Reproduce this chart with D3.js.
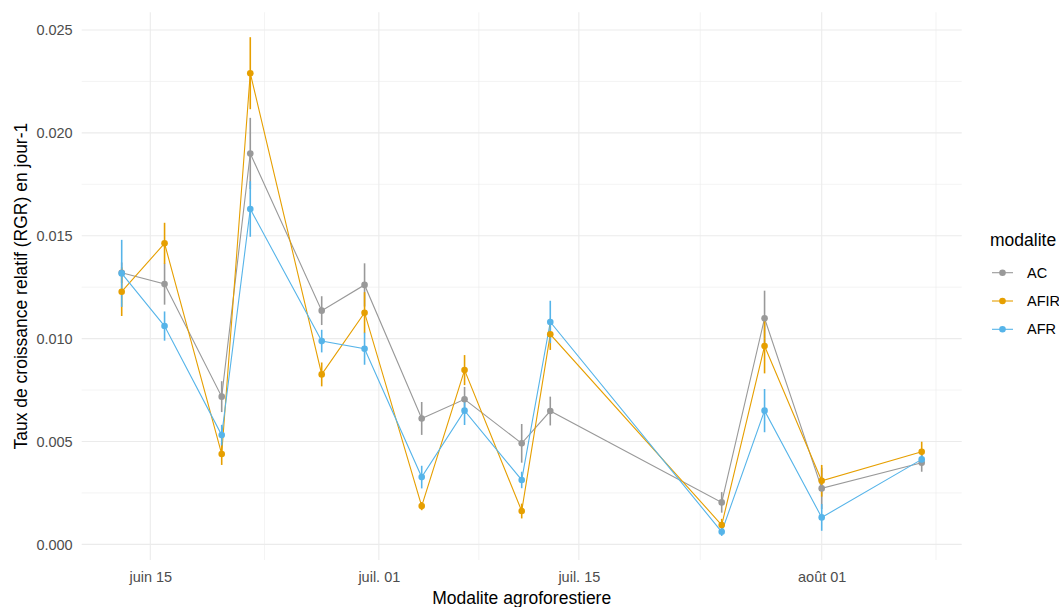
<!DOCTYPE html>
<html><head><meta charset="utf-8">
<script src="https://cdn.jsdelivr.net/npm/d3@7"></script>
<style>
body{margin:0;background:#fff;}
text{font-family:"Liberation Sans",Arial,sans-serif;}
</style>
</head><body>
<svg id="chart" width="1059" height="607"></svg>
<script>
// ---- data ----
const dates = ["2021-06-13","2021-06-16","2021-06-20","2021-06-22","2021-06-27","2021-06-30","2021-07-04","2021-07-07","2021-07-11","2021-07-13","2021-07-25","2021-07-28","2021-08-01","2021-08-08"];
const seriesNames = ["AC","AFIR","AFR"];
const seriesColors = ["#999999","#E69F00","#56B4E9"];
const acMean   = [0.01320,0.01265,0.00718,0.01900,0.01136,0.01261,0.00612,0.00705,0.00491,0.00648,0.00204,0.01099,0.00272,0.00397];
const acSe     = [0.00050,0.00100,0.00075,0.00173,0.00070,0.00105,0.00080,0.00060,0.00094,0.00070,0.00050,0.00134,0.00100,0.00044];
const afirMean = [0.01228,0.01463,0.00439,0.02290,0.00826,0.01126,0.00186,0.00847,0.00162,0.01021,0.00094,0.00964,0.00309,0.00450];
const afirSe   = [0.00118,0.00100,0.00053,0.00175,0.00058,0.00100,0.00020,0.00073,0.00036,0.00076,0.00030,0.00133,0.00077,0.00049];
const afrMean  = [0.01317,0.01061,0.00531,0.01630,0.00988,0.00951,0.00327,0.00650,0.00313,0.01081,0.00061,0.00650,0.00131,0.00413];
const afrSe    = [0.00163,0.00071,0.00050,0.00135,0.00055,0.00078,0.00055,0.00070,0.00040,0.00103,0.00020,0.00105,0.00065,0.00020];
const yTicks = [0,0.005,0.010,0.015,0.020,0.025];
const yMinor = [0.0025,0.0075,0.0125,0.0175,0.0225];
const xTickDates = ["2021-06-15","2021-07-01","2021-07-15","2021-08-01"];
const xTickLabels = ["juin 15","juil. 01","juil. 15","août 01"];
const xMinorDates = ["2021-06-23","2021-07-08","2021-07-23T12:00","2021-08-09"];
const xTitle = "Modalite agroforestiere";
const yTitle = "Taux de croissance relatif (RGR) en jour-1";
const legendTitle = "modalite";

// ---- setup ----
const parse = s => new Date(s + (s.length===10 ? "T00:00" : ""));
const means = [acMean, afirMean, afrMean];
const ses = [acSe, afirSe, afrSe];
const series = seriesNames.map((name,i) => ({
  name, color: seriesColors[i],
  values: dates.map((d,j) => ({date: parse(d), mean: means[i][j], se: ses[i][j]}))
}));

const L = 81.7, R = 961.7, T = 12.3, B = 560;
const d0 = parse(dates[0]), d1 = parse(dates[dates.length-1]);
const pad = (d1 - d0) * 0.05;
const x = d3.scaleTime().domain([new Date(+d0 - pad), new Date(+d1 + pad)]).range([L, R]);
const y = d3.scaleLinear().domain([-0.00076, 0.02586]).range([B, T]);

const svg = d3.select("#chart");
svg.append("rect").attr("width",1059).attr("height",607).attr("fill","#fff");

// grid
const grid = svg.append("g");
grid.selectAll(".ym").data(yMinor).join("line")
  .attr("x1",L).attr("x2",R).attr("y1",d=>y(d)).attr("y2",d=>y(d))
  .attr("stroke","#ebebeb").attr("stroke-width",0.6);
grid.selectAll(".xm").data(xMinorDates).join("line")
  .attr("y1",T).attr("y2",B).attr("x1",d=>x(parse(d))).attr("x2",d=>x(parse(d)))
  .attr("stroke","#ebebeb").attr("stroke-width",0.6);
grid.selectAll(".yM").data(yTicks).join("line")
  .attr("x1",L).attr("x2",R).attr("y1",d=>y(d)).attr("y2",d=>y(d))
  .attr("stroke","#ebebeb").attr("stroke-width",1.1);
grid.selectAll(".xM").data(xTickDates).join("line")
  .attr("y1",T).attr("y2",B).attr("x1",d=>x(parse(d))).attr("x2",d=>x(parse(d)))
  .attr("stroke","#ebebeb").attr("stroke-width",1.1);

// axes
const yAxis = svg.append("g").attr("transform",`translate(${L},0)`)
  .call(d3.axisLeft(y).tickValues(yTicks).tickFormat(d3.format(".3f")).tickSize(0).tickPadding(9));
yAxis.select(".domain").remove();
yAxis.selectAll("text").attr("fill","#4d4d4d").style("font-size","14.5px");

const xTickParsed = xTickDates.map(parse);
const xAxis = svg.append("g").attr("transform",`translate(0,${B})`)
  .call(d3.axisBottom(x).tickValues(xTickParsed).tickFormat((d,i)=>xTickLabels[i]).tickSize(0).tickPadding(12));
xAxis.select(".domain").remove();
xAxis.selectAll("text").attr("fill","#4d4d4d").style("font-size","14.5px");

svg.append("text").attr("x",(L+R)/2).attr("y",604).attr("text-anchor","middle")
  .style("font-size","17.5px").attr("fill","#000").text(xTitle);
svg.append("text").attr("transform",`translate(27,${(T+B)/2}) rotate(-90)`).attr("text-anchor","middle")
  .style("font-size","17.5px").attr("fill","#000").text(yTitle);

// lines
const line = d3.line().x(d=>x(d.date)).y(d=>y(d.mean));
svg.append("g").selectAll("path").data(series).join("path")
  .attr("d",s=>line(s.values)).attr("fill","none").attr("stroke",s=>s.color).attr("stroke-width",1.1);

// error bars
series.forEach(s=>{
  svg.append("g").selectAll("line").data(s.values).join("line")
    .attr("x1",d=>x(d.date)).attr("x2",d=>x(d.date))
    .attr("y1",d=>y(d.mean-d.se)).attr("y2",d=>y(d.mean+d.se))
    .attr("stroke",s.color).attr("stroke-width",1.6);
});
// points
series.forEach(s=>{
  svg.append("g").selectAll("circle").data(s.values).join("circle")
    .attr("cx",d=>x(d.date)).attr("cy",d=>y(d.mean)).attr("r",3.3).attr("fill",s.color);
});

// legend
const lg = svg.append("g");
lg.append("text").attr("x",990).attr("y",246).style("font-size","17.5px").attr("fill","#000").text(legendTitle);
const keyY = [272.7, 301, 329.3];
series.forEach((s,i)=>{
  const g = lg.append("g").attr("transform",`translate(0,${keyY[i]})`);
  g.append("line").attr("x1",992).attr("x2",1013).attr("stroke",s.color).attr("stroke-width",1.1);
  g.append("circle").attr("cx",1002.5).attr("r",3.3).attr("fill",s.color);
  g.append("text").attr("x",1027).attr("y",5).style("font-size","14.5px").attr("fill","#000").text(s.name);
});
</script>
</body></html>
